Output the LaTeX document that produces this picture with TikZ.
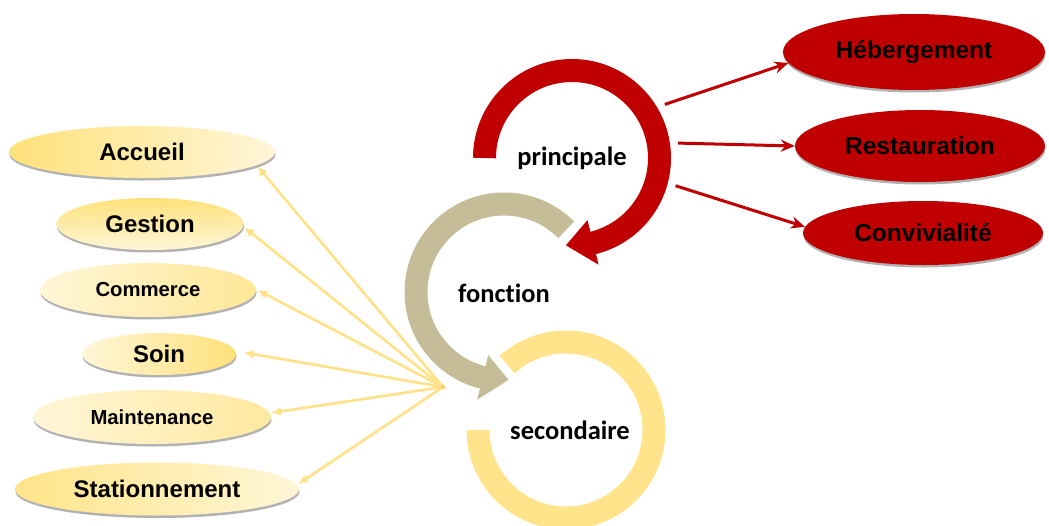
\documentclass[tikz,border=0pt]{standalone}
\usepackage{fontspec}
\setmainfont{Liberation Sans}
\newfontfamily\carl[Ligatures=NoCommon]{Carlito}
\usetikzlibrary{shapes.geometric,arrows.meta,shadows,calc}
\definecolor{myred}{HTML}{C00000}
\definecolor{mytan}{HTML}{C4BD97}
\definecolor{ringyel}{HTML}{FFE48C}
\definecolor{yD}{HTML}{FFE17A}
\definecolor{yL}{HTML}{FFF6D8}
\definecolor{yarrow}{HTML}{FFE188}
\begin{document}
\begin{tikzpicture}[x=1pt,y=1pt,
  leaf/.style={ellipse, inner sep=0pt, outer sep=1.5pt,
    font=\bfseries\fontsize{24}{27}\selectfont,
    drop shadow={shadow xshift=0.5pt, shadow yshift=-2.5pt, fill=black, opacity=0.3}},
  smallleaf/.style={leaf, font=\bfseries\fontsize{20.3}{23}\selectfont},
  redleaf/.style={ellipse, inner sep=0pt, fill=myred,
    font=\bfseries\fontsize{24.5}{27}\selectfont,
    drop shadow={shadow xshift=0.5pt, shadow yshift=-2.5pt, fill=black, opacity=0.3}},
  ringlabel/.style={inner sep=0pt, font=\carl\bfseries\fontsize{26.5}{29}\selectfont},
  ringarc/.style={line width=23pt},
  yarr/.style={draw=yarrow, line width=2.6pt, -{Latex[length=10pt,width=9pt]}},
  rarr/.style={draw=myred, line width=3pt, -{Stealth[length=14pt,width=12pt]}}
]
\useasboundingbox (0,0) rectangle (1049,-525);

% ring centres
\coordinate (Rc) at (572,-158);
\coordinate (Bc) at (504,-292);
\coordinate (Yc) at (566,-430);

% yellow ring
\draw[ringarc, draw=ringyel] ($(Yc)+(132:88)$) arc[start angle=132, end angle=-180, radius=88];
% tan circular arrow
\draw[ringarc, draw=mytan] ($(Bc)+(45:88)$) arc[start angle=45, end angle=257, radius=88];
\fill[mytan] ($(Bc)+(256:65)$) -- ($(Bc)+(273:88)$) -- ($(Bc)+(256:111)$) -- cycle;
% red circular arrow
\draw[ringarc, draw=myred] ($(Rc)+(180:87.5)$) arc[start angle=180, end angle=-77, radius=87.5];
\fill[myred] ($(Rc)+(-76:64)$) -- ($(Rc)+(-94:87.5)$) -- ($(Rc)+(-76:110)$) -- cycle;

% ring labels
\node[ringlabel, circle, minimum size=214pt] (principale) at (Rc) {principale};
\node[ringlabel] (fonction) at (504,-293) {fonction};
\node[ringlabel] (secondaire) at (570,-430) {secondaire};

% left leaves
\node[leaf, minimum width=266pt, minimum height=52pt, left color=yD, right color=yL] (accueil) at (142,-152) {Accueil};
\node[leaf, minimum width=187pt, minimum height=52pt, shading=axis, shading angle=60, top color=yD, bottom color=yL] (gestion) at (150,-224) {Gestion};
\node[smallleaf, minimum width=216pt, minimum height=54pt, left color=yL, right color=yD!70!yL] (commerce) at (148,-290) {Commerce};
\node[leaf, minimum width=154pt, minimum height=42pt, left color=yL, right color=yD] (soin) at (159,-354) {Soin};
\node[smallleaf, minimum width=238pt, minimum height=54pt, left color=yL, right color=yD!60!yL] (maintenance) at (152,-417) {Maintenance};
\node[leaf, minimum width=284pt, minimum height=53pt, left color=yD!85!yL, right color=yL] (stationnement) at (157,-489) {Stationnement};

% right leaves
\node[redleaf, minimum width=262pt, minimum height=76pt] (heb) at (914,-52) {Hébergement};
\node[redleaf, minimum width=250pt, minimum height=72pt] (rest) at (920,-146) {Restauration};
\node[redleaf, minimum width=240pt, minimum height=64pt] (conv) at (923,-233) {Convivialité};

% yellow fan of arrows
\coordinate (hub) at (443,-387);
\draw[yarr] (hub) -- (accueil.-7);
\draw[yarr] (hub) -- (gestion.-2);
\draw[yarr] (hub) -- (commerce.east);
\draw[yarr, shorten >=7pt] (hub) -- (soin.2);
\draw[yarr] (hub) -- (maintenance.2);
\draw[yarr] (hub) -- (stationnement.2);
\fill[yD!80!orange] (hub) circle (2.2pt);

% red arrows
\draw[rarr] (principale.30) -- (heb.185);
\draw[rarr] (principale.8) -- (rest.west);
\draw[rarr] (principale.-15) -- (conv.177);
\end{tikzpicture}
\end{document}
